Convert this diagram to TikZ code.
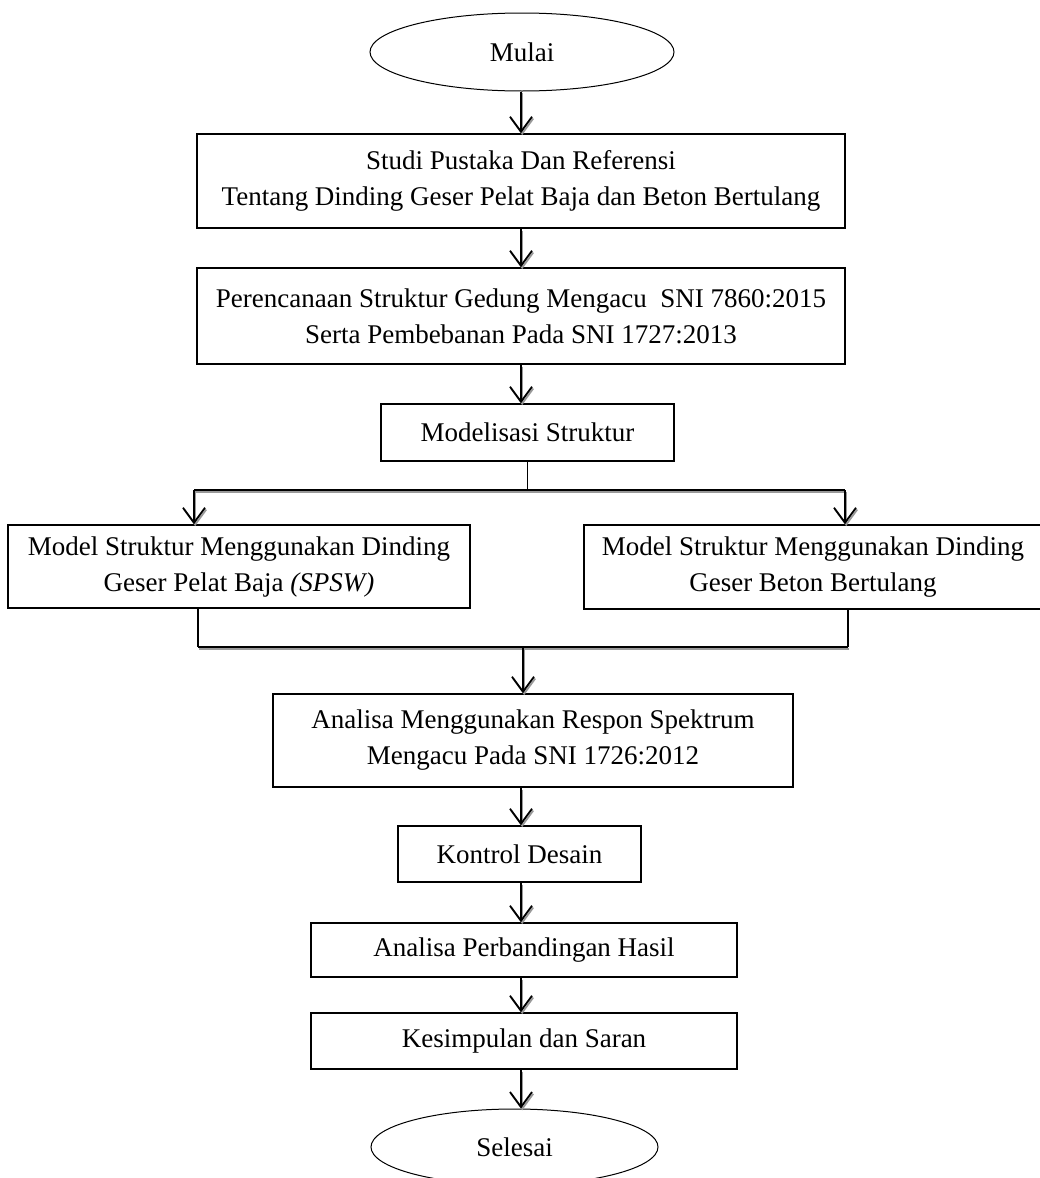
\documentclass[tikz,border=0pt]{standalone}
\usepackage{fontspec}
\setmainfont{Liberation Serif}
\usetikzlibrary{arrows.meta,shapes.geometric}
\begin{document}
\begin{tikzpicture}[x=1pt,y=-1pt,
  every node/.style={font=\fontsize{27}{36}\selectfont},
  box/.style={draw, line width=1.5pt, rectangle, inner sep=0pt, align=center},
  oval/.style={draw, line width=1pt, ellipse, inner sep=0pt},
  shad/.style={preaction={draw=black!40, line width=1.8pt, transform canvas={shift={(1.2pt,-1.8pt)}}}},
  arr/.style={line width=1.8pt, -{Straight Barb[length=15pt,width=22pt]}, shad},
  bar/.style={line width=1.8pt, shad},
  conn/.style={line width=1.6pt}
]
\useasboundingbox (0,0) rectangle (1040,1178);
\coordinate (axis) at (521,0);

\node[oval, minimum width=304, minimum height=78] (mulai) at (522,52) {Mulai};
\node[box, minimum width=648, minimum height=94] (b1) at (521,181)
  {Studi Pustaka Dan Referensi\\Tentang Dinding Geser Pelat Baja dan Beton Bertulang};
\node[box, minimum width=648, minimum height=96] (b2) at (521,316)
  {Perencanaan Struktur Gedung Mengacu\ \ SNI 7860:2015\\Serta Pembebanan Pada SNI 1727:2013};
\node[box, minimum width=293, minimum height=57] (mod) at (527.5,432.5) {Modelisasi Struktur};
\node[box, minimum width=462, minimum height=83] (left) at (239,566.5)
  {Model Struktur Menggunakan Dinding\\Geser Pelat Baja \textit{(SPSW)}};
\node[box, minimum width=458, minimum height=84] (right) at (813,567)
  {Model Struktur Menggunakan Dinding\\Geser Beton Bertulang};
\node[box, minimum width=520, minimum height=93] (ana) at (533,740.5)
  {Analisa Menggunakan Respon Spektrum\\Mengacu Pada SNI 1726:2012};
\node[box, minimum width=243, minimum height=56] (kon) at (519.5,854) {Kontrol Desain};
\node[box, minimum width=426, minimum height=54] (ap) at (524,950) {Analisa Perbandingan Hasil};
\node[box, minimum width=426, minimum height=56] (kes) at (524,1041) {Kesimpulan dan Saran};
\node[oval, minimum width=287, minimum height=76] (sel) at (514.5,1147) {Selesai};

\coordinate (sl) at (194,490);
\coordinate (sr) at (845,490);
\coordinate (ml) at (198,647);
\coordinate (mr) at (848,647);
\coordinate (mc) at (523,647);

\draw[arr] (mulai.south -| axis) -- (b1.north -| axis);
\draw[arr] (b1.south -| axis) -- (b2.north -| axis);
\draw[arr] (b2.south -| axis) -- (mod.north -| axis);

\draw[conn] (mod.south) -- (mod.south |- sl);
\draw[bar] (sl) -- (sr);
\draw[arr] (sl) -- (sl |- left.north);
\draw[arr] (sr) -- (sr |- right.north);

\draw[conn] (left.south -| ml) -- (ml);
\draw[conn] (right.south -| mr) -- (mr);
\draw[bar] (ml) -- (mr);
\draw[arr] (mc) -- (mc |- ana.north);

\draw[arr] (ana.south -| axis) -- (kon.north -| axis);
\draw[arr] (kon.south -| axis) -- (ap.north -| axis);
\draw[arr] (ap.south -| axis) -- (kes.north -| axis);
\draw[arr] (kes.south -| axis) -- (sel.north -| axis);
\end{tikzpicture}
\end{document}
